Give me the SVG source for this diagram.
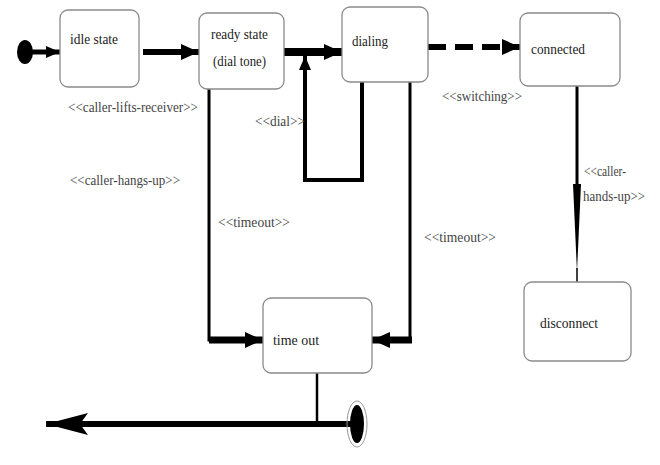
<svg xmlns="http://www.w3.org/2000/svg" width="660" height="465" viewBox="0 0 660 465" font-family="Liberation Serif, serif" font-size="15">
<style>
.box{fill:#fff;stroke:#8a8a8a;stroke-width:1.3}
.t{fill:#222}
.lb{fill:#444}
.c{fill:none;stroke:#000;stroke-linejoin:miter}
</style>
<defs>
<marker id="ah" markerUnits="userSpaceOnUse" markerWidth="20" markerHeight="16" refX="18" refY="8" orient="auto">
<path d="M0,0 L18,8 L0,16 z" fill="#000"/>
</marker>
<marker id="ahs" markerUnits="userSpaceOnUse" markerWidth="14" markerHeight="12" refX="14" refY="6" orient="auto">
<path d="M0,0 L14,6 L0,12 z" fill="#000"/>
</marker>
<marker id="ahb" markerUnits="userSpaceOnUse" markerWidth="44" markerHeight="22" refX="42" refY="11" orient="auto">
<path d="M0,0 L42,11 L0,22 L8,11 z" fill="#000"/>
</marker>
</defs>
<g id="connectors">
<ellipse cx="25" cy="52" rx="8" ry="12" fill="#000"/>
<line class="c" x1="28" y1="52" x2="60" y2="52" stroke-width="5" marker-end="url(#ahs)"/>
<line class="c" x1="143" y1="52" x2="199" y2="52" stroke-width="6" marker-end="url(#ah)"/>
<line class="c" x1="284" y1="52" x2="342" y2="52" stroke-width="8" marker-end="url(#ah)"/>
<line class="c" x1="428" y1="47" x2="520" y2="47" stroke-width="6" stroke-dasharray="18,9" marker-end="url(#ah)"/>
<polyline class="c" points="362,82 362,180 305,180 305,56" stroke-width="4" marker-end="url(#ahs)"/>
<polyline class="c" points="209,89 209,340 230,340" stroke-width="3"/>
<line class="c" x1="209" y1="340" x2="263" y2="340" stroke-width="7" marker-end="url(#ah)"/>
<polyline class="c" points="410,82 410,340 395,340" stroke-width="3"/>
<line class="c" x1="412" y1="340" x2="372" y2="340" stroke-width="7" marker-end="url(#ah)"/>
<line class="c" x1="577" y1="86" x2="577" y2="186" stroke-width="3"/>
<polygon points="573,184 581,184 577,272" fill="#000"/>
<line class="c" x1="577" y1="268" x2="577" y2="282" stroke-width="1.5"/>
<line class="c" x1="317" y1="373" x2="317" y2="424" stroke-width="2.5"/>
<line class="c" x1="356" y1="424" x2="46" y2="424" stroke-width="6" marker-end="url(#ahb)"/>
<ellipse cx="357" cy="424" rx="10" ry="23" fill="none" stroke="#999" stroke-width="1"/>
<ellipse cx="357" cy="424" rx="7" ry="19" fill="#000"/>
<text class="lb" x="68" y="112" textLength="130" lengthAdjust="spacingAndGlyphs">&lt;&lt;caller-lifts-receiver&gt;&gt;</text>
<text class="lb" x="255" y="126" textLength="50" lengthAdjust="spacingAndGlyphs">&lt;&lt;dial&gt;&gt;</text>
<text class="lb" x="70" y="185" textLength="110" lengthAdjust="spacingAndGlyphs">&lt;&lt;caller-hangs-up&gt;&gt;</text>
<text class="lb" x="218" y="227" textLength="72" lengthAdjust="spacingAndGlyphs">&lt;&lt;timeout&gt;&gt;</text>
<text class="lb" x="424" y="242" textLength="72" lengthAdjust="spacingAndGlyphs">&lt;&lt;timeout&gt;&gt;</text>
<text class="lb" x="442" y="101" textLength="80" lengthAdjust="spacingAndGlyphs">&lt;&lt;switching&gt;&gt;</text>
<text class="lb" x="584" y="176" textLength="42" lengthAdjust="spacingAndGlyphs">&lt;&lt;caller-</text>
<text class="lb" x="583" y="201" textLength="62" lengthAdjust="spacingAndGlyphs">hands-up&gt;&gt;</text>
</g>
<g id="idle">
<rect class="box" x="60" y="10" width="79" height="77" rx="8"/>
<text class="t" x="70" y="44" textLength="48" lengthAdjust="spacingAndGlyphs">idle state</text>
</g>
<g id="ready">
<rect class="box" x="199" y="13" width="85" height="76" rx="8"/>
<text class="t" x="211" y="39" textLength="57" lengthAdjust="spacingAndGlyphs">ready state</text>
<text class="t" x="213" y="66" textLength="53" lengthAdjust="spacingAndGlyphs">(dial tone)</text>
</g>
<g id="dialing">
<rect class="box" x="342" y="7" width="86" height="75" rx="8"/>
<text class="t" x="352" y="46" textLength="36" lengthAdjust="spacingAndGlyphs">dialing</text>
</g>
<g id="connected">
<rect class="box" x="520" y="13" width="100" height="73" rx="8"/>
<text class="t" x="531" y="54" textLength="54" lengthAdjust="spacingAndGlyphs">connected</text>
</g>
<g id="disconnect">
<rect class="box" x="524" y="282" width="107" height="79" rx="8"/>
<text class="t" x="540" y="328" textLength="58" lengthAdjust="spacingAndGlyphs">disconnect</text>
</g>
<g id="timeout">
<rect class="box" x="263" y="298" width="109" height="75" rx="8"/>
<text class="t" x="273" y="345" textLength="46" lengthAdjust="spacingAndGlyphs">time out</text>
</g>
</svg>
